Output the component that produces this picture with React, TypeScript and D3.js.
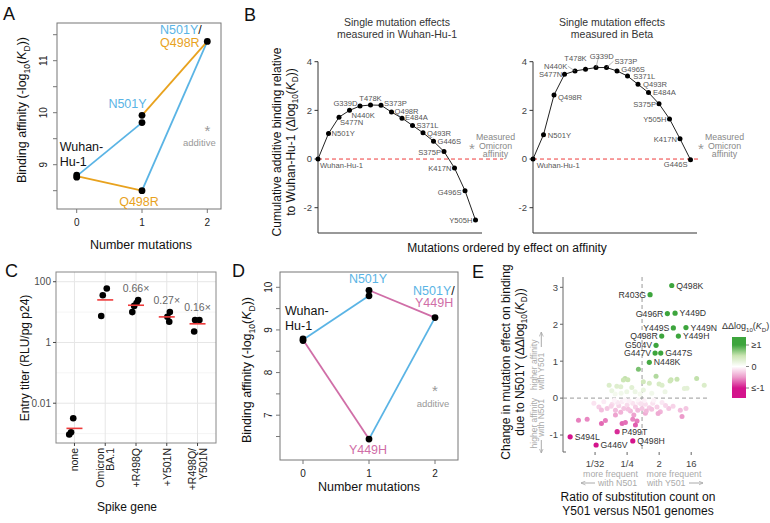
import React from "react";
import * as d3 from "d3";

const FONT = "'Liberation Sans', Arial, Helvetica, sans-serif";
const BLUE = "#5AB4E5";
const ORANGE = "#E8A21E";
const PINK = "#D06EA7";
const RED = "#EE3A3A";

/* ---------- Panel A ---------- */
const aWuhanHu1 = [8.8, 8.76];
const aN501Y = [9.95, 9.81];
const aQ498R = [8.5];
const aN501YQ498R = [11.37];
const aXTicks = [0, 1, 2];
const aYTicks = [8.5, 9, 9.5, 10, 10.5, 11, 11.5];
const aYLabels = [9, 10, 11];

/* ---------- Panel D ---------- */
const dWuhanHu1 = [8.79, 8.75];
const dN501Y = [9.93, 9.8];
const dY449H = [6.44];
const dN501YY449H = [9.29];
const dYTicks = [6.5, 7, 7.5, 8, 8.5, 9, 9.5, 10];
const dYLabels = [7, 8, 9, 10];

/* ---------- Panel B ---------- */
const bWuhanOrder = ["Wuhan-Hu-1", "N501Y", "S477N", "N440K", "G339D", "T478K", "S373P", "Q498R", "E484A", "S371L", "Q493R", "G446S", "S375P", "K417N", "G496S", "Y505H"];
const bWuhanCum = [0, 1.05, 1.72, 2.0, 2.18, 2.22, 2.21, 1.93, 1.68, 1.38, 1.08, 0.73, 0.31, -0.37, -1.3, -2.51];
const bBetaOrder = ["Wuhan-Hu-1", "N501Y", "Q498R", "S477N", "N440K", "T478K", "G339D", "S373P", "G496S", "S371L", "Q493R", "E484A", "S375P", "Y505H", "K417N", "G446S"];
const bBetaCum = [0, 1.0, 2.63, 3.48, 3.62, 3.69, 3.76, 3.76, 3.62, 3.41, 3.07, 2.73, 2.27, 1.65, 0.83, -0.03];
const bMeasuredOmicron = 0.37;
const bYTicks = [-2, 0, 2, 4];

/* ---------- Panel C ---------- */
const cGenes = ["none", "Omicron BA.1", "+R498Q", "+Y501N", "+R498Q/Y501N"];
const cGeneLines = [["none"], ["Omicron", "BA.1"], ["+R498Q"], ["+Y501N"], ["+R498Q/", "Y501N"]];
const cTiters = [
  [0.0032, 0.0011, 0.00093],
  [60, 36, 7.4],
  [25, 20, 16, 10],
  [10, 7, 4.8],
  [5.5, 5.5, 2.3],
];
const cJitter = [
  [-0.04, -0.11, -0.17],
  [0.05, -0.08, -0.13],
  [0.07, 0.02, -0.06, -0.12],
  [0.1, 0.02, 0.08],
  [-0.08, 0.06, -0.11],
];
const cFoldLabels = ["", "", "0.66×", "0.27×", "0.16×"];
const cYTicks = [0.01, 1, 100];
const cYTickLabels = ["0.01", "1", "100"];
const cYMinor = [0.001, 0.1, 10];

/* ---------- Panel E ---------- */
const eLabeled = ["Q498K", "R403G", "G496R", "Y449D", "Y449S", "Y449N", "Q498R", "Y449H", "G504V", "G447V", "G447S", "N448K", "S494L", "G446V", "Q498H", "P499T"];
const eLabeledLog2Ratio = [2.18, 0.15, 1.77, 2.49, 2.33, 3.51, 1.24, 2.8, 0.71, 0.62, 1.15, 0.08, -7.33, -4.9, -1.47, -2.93];
const eLabeledDDlogKd = [3.05, 2.8, 2.29, 2.3, 1.9, 1.91, 1.68, 1.68, 1.43, 1.22, 1.22, 0.97, -1.05, -1.27, -1.16, -0.91];
const eLabelSide = ["r", "l", "l", "r", "l", "r", "l", "r", "l", "l", "r", "r", "r", "r", "r", "r"];
const eOtherLog2Ratio = [
  -0.94, 0.71, -2.19, -2.35, -1.93, 2.11, 2.02, 4.51, 5.22, -0.48, 0.08, -3.68, -2.96, -2.59, -1.56, 0.99, 3.36, -2.03, -3.43, -1.25, -0.48, 0.31, 1.55, -2.56, -0.79, -3.12, 2.67, 1.27, 3.61,
  -5.11, -4.64, -4.18, -3.87, -3.4, -3.09, -2.78, -2.47, -2.31, -2.0, -1.69, -1.47, -1.22, -0.91, -0.6, -0.29, 0.08, 0.4, 0.8, 1.27, 1.9, 1.11, 2.98, 3.51, 3.14, -0.29, -1.37, -3.09, -5.74, -4.4, -4.03, -2.47, -2.16, -1.47, -1.07, -1.22, -6.55,
  -2.9, -2.2, -1.8, -1.0, -0.4, 0.5, -3.5, -1.9, -1.0, -0.2, 0.3, -2.6, 1.6, -4.4, 0.9, -0.7, -3.2, 2.3,
];
const eOtherDDlogKd = [
  0.78, 0.59, 0.53, 0.49, 0.5, 0.5, 0.46, 0.53, 0.35, 0.44, 0.4, 0.35, 0.32, 0.31, 0.29, 0.38, 0.26, 0.17, 0.2, 0.17, 0.22, 0.13, 0.17, 0.13, 0.11, 0.11, 0.51, 0.35, 0.27,
  -0.14, -0.24, -0.1, -0.28, -0.17, -0.33, -0.21, -0.1, -0.28, -0.19, -0.35, -0.14, -0.24, -0.12, -0.28, -0.17, -0.26, -0.14, -0.24, -0.12, -0.28, -0.37, -0.33, -0.28, -0.5, -0.41, -0.46, -0.46, -0.57, -0.69, -0.61, -0.69, -0.66, -0.57, -0.62, -0.73, -0.6,
  -0.12, -0.05, -0.08, -0.05, -0.07, -0.06, -0.22, -0.3, -0.33, -0.35, -0.3, -0.38, -0.2, -0.32, -0.42, -0.15, -0.06, -0.22,
];
const eRatioOverall = -0.6;
const eXTicks = [-5, -2, 1, 4];
const eXTickLabels = ["1/32", "1/4", "2", "16"];
const eYTicks = [-1, 0, 1, 2, 3];
const eLegendValues = [1, 0, -1];
const eLegendLabels = ["≥1", "0", "≤-1"];

/* ---------- helpers ---------- */
function LogKd({ fs, prefix, close }: { fs: number; prefix: string; close: string }) {
  const s = fs * 0.68;
  const sh = fs * 0.28;
  return (
    <>
      {prefix}
      <tspan fontSize={s} dy={sh}>10</tspan>
      <tspan dy={-sh}>(</tspan>
      <tspan fontStyle="italic">K</tspan>
      <tspan fontSize={s} dy={sh}>D</tspan>
      <tspan dy={-sh}>{close}</tspan>
    </>
  );
}

function Star({ x, y }: { x: number; y: number }) {
  return (
    <text x={x} y={y + 8} textAnchor="middle" fontSize={15} fill="#999">*</text>
  );
}

/* ---------- Panel A ---------- */
function PanelA() {
  const L = 57, R = 221, T = 23, B = 209;
  const x = d3.scaleLinear().domain([0, 2]).range([76.7, 207.3]);
  const y = d3.scaleLinear().domain([9, 11]).range([164.7, 60.7]);
  const wu = d3.mean(aWuhanHu1) as number;
  const line = d3.line<number[]>().x((d) => x(d[0])).y((d) => y(d[1]));
  const blue = [[[0, wu], [1, aN501Y[1]]], [[1, aQ498R[0]], [2, aN501YQ498R[0]]]];
  const orange = [[[0, wu], [1, aQ498R[0]]], [[1, aN501Y[0]], [2, aN501YQ498R[0]]]];
  const pts = [
    ...aWuhanHu1.map((v) => [0, v]),
    ...aN501Y.map((v) => [1, v]),
    ...aQ498R.map((v) => [1, v]),
    ...aN501YQ498R.map((v) => [2, v]),
  ];
  return (
    <g>
      <rect x={L} y={T} width={R - L} height={B - T} fill="none" stroke="#777" />
      {aYTicks.map((t) => (
        <line key={t} x1={L - 4} x2={L} y1={y(t)} y2={y(t)} stroke="#777" />
      ))}
      {aYLabels.map((t) => (
        <text key={t} transform={`translate(${L - 10},${y(t)}) rotate(-90)`} textAnchor="middle" fontSize={10} fill="#222">{t}</text>
      ))}
      {aXTicks.map((t) => (
        <g key={t}>
          <line x1={x(t)} x2={x(t)} y1={B} y2={B + 4} stroke="#777" />
          <text x={x(t)} y={B + 16.5} textAnchor="middle" fontSize={10} fill="#222">{t}</text>
        </g>
      ))}
      <text transform={`translate(26,110) rotate(-90)`} textAnchor="middle" fontSize={12.5} fill="#111">
        <LogKd fs={12.5} prefix="Binding affinity (-log" close="))" />
      </text>
      <text x={141} y={249} textAnchor="middle" fontSize={12.5} fill="#111">Number mutations</text>
      {blue.map((s, i) => (
        <path key={"b" + i} d={line(s) as string} fill="none" stroke={BLUE} strokeWidth={1.8} />
      ))}
      {orange.map((s, i) => (
        <path key={"o" + i} d={line(s) as string} fill="none" stroke={ORANGE} strokeWidth={1.8} />
      ))}
      {pts.map((p, i) => (
        <circle key={i} cx={x(p[0])} cy={y(p[1])} r={3.4} fill="#000" />
      ))}
      <text x={x(1) - 14.5} y={y(aN501Y[0]) - 7} textAnchor="middle" fontSize={12.5} fill={BLUE}>N501Y</text>
      <text x={x(0) - 17} y={y(wu) - 25} fontSize={12.5} fill="#111">Wuhan-</text>
      <text x={x(0) - 17} y={y(wu) - 10} fontSize={12.5} fill="#111">Hu-1</text>
      <text x={x(1) - 3} y={y(aQ498R[0]) + 15} textAnchor="middle" fontSize={12.5} fill={ORANGE}>Q498R</text>
      <text x={x(2) - 47.3} y={y(aN501YQ498R[0]) - 7} fontSize={12.5} fill={BLUE}>
        N501Y<tspan fill="#111">/</tspan>
      </text>
      <text x={x(2) - 47.3} y={y(aN501YQ498R[0]) + 5.5} fontSize={12.5} fill={ORANGE}>Q498R</text>
      <Star x={x(2)} y={128} />
      <text x={x(2) - 8} y={146} textAnchor="middle" fontSize={9.5} fill="#999">additive</text>
    </g>
  );
}

/* ---------- Panel D ---------- */
function PanelD() {
  const L = 280, R = 458, T = 272, B = 460;
  const x = d3.scaleLinear().domain([0, 2]).range([303, 435]);
  const y = d3.scaleLinear().domain([7, 10]).range([415.2, 287.3]);
  const wu = d3.mean(dWuhanHu1) as number;
  const line = d3.line<number[]>().x((d) => x(d[0])).y((d) => y(d[1]));
  const blue = [[[0, wu], [1, dN501Y[1]]], [[1, dY449H[0]], [2, dN501YY449H[0]]]];
  const pink = [[[0, wu], [1, dY449H[0]]], [[1, dN501Y[0]], [2, dN501YY449H[0]]]];
  const pts = [
    ...dWuhanHu1.map((v) => [0, v]),
    ...dN501Y.map((v) => [1, v]),
    ...dY449H.map((v) => [1, v]),
    ...dN501YY449H.map((v) => [2, v]),
  ];
  return (
    <g>
      <rect x={L} y={T} width={R - L} height={B - T} fill="none" stroke="#777" />
      {dYTicks.map((t) => (
        <line key={t} x1={L - 4} x2={L} y1={y(t)} y2={y(t)} stroke="#777" />
      ))}
      {dYLabels.map((t) => (
        <text key={t} transform={`translate(${L - 8.5},${y(t)}) rotate(-90)`} textAnchor="middle" fontSize={10} fill="#222">{t}</text>
      ))}
      {aXTicks.map((t) => (
        <g key={t}>
          <line x1={x(t)} x2={x(t)} y1={B} y2={B + 4} stroke="#777" />
          <text x={x(t)} y={B + 17} textAnchor="middle" fontSize={10} fill="#222">{t}</text>
        </g>
      ))}
      <text transform={`translate(251,370) rotate(-90)`} textAnchor="middle" fontSize={12.5} fill="#111">
        <LogKd fs={12.5} prefix="Binding affinity (-log" close="))" />
      </text>
      <text x={369} y={491} textAnchor="middle" fontSize={12.5} fill="#111">Number mutations</text>
      {blue.map((s, i) => (
        <path key={"b" + i} d={line(s) as string} fill="none" stroke={BLUE} strokeWidth={1.8} />
      ))}
      {pink.map((s, i) => (
        <path key={"p" + i} d={line(s) as string} fill="none" stroke={PINK} strokeWidth={1.8} />
      ))}
      {pts.map((p, i) => (
        <circle key={i} cx={x(p[0])} cy={y(p[1])} r={3.4} fill="#000" />
      ))}
      <text x={x(1) - 1} y={y(dN501Y[0]) - 7.3} textAnchor="middle" fontSize={12.5} fill={BLUE}>N501Y</text>
      <text x={x(0) - 18} y={y(wu) - 25} fontSize={12.5} fill="#111">Wuhan-</text>
      <text x={x(0) - 18} y={y(wu) - 10} fontSize={12.5} fill="#111">Hu-1</text>
      <text x={x(1) - 1} y={y(dY449H[0]) + 15} textAnchor="middle" fontSize={12.5} fill={PINK}>Y449H</text>
      <text x={x(2) - 22} y={y(dN501YY449H[0]) - 23} fontSize={12.5} fill={BLUE}>
        N501Y<tspan fill="#111">/</tspan>
      </text>
      <text x={x(2) - 20} y={y(dN501YY449H[0]) - 10.5} fontSize={12.5} fill={PINK}>Y449H</text>
      <Star x={x(2)} y={388} />
      <text x={x(2) - 2} y={407} textAnchor="middle" fontSize={9.5} fill="#999">additive</text>
    </g>
  );
}

/* ---------- Panel B ---------- */
const bSpecWuhan: [string, number, number][] = [
  ["start", 2, 9.2], ["start", 3, 2.8], ["start", 1, 7.4], ["start", 2, 7.5], ["end", -2.5, 0.5], ["middle", 0, -4],
  ["start", 3, 1], ["start", 3, 1.5], ["start", 3, 1.5], ["start", 4, 3], ["start", 4, 3], ["start", 4, 3],
  ["end", -3, 4], ["end", -3, 3], ["end", -3.5, 4], ["end", -3, 3],
];
const bSpecBeta: [string, number, number][] = [
  ["start", 3.7, 9.2], ["start", 4.3, 2.8], ["start", 4, 5.4], ["end", -2.3, 2.8], ["end", -7.7, -2.2], ["middle", -10, -7.9],
  ["middle", 5.7, -8.8], ["start", 8, -3.8], ["start", 4.3, 1.1], ["start", 5.7, 3.4], ["start", 5, 2.8], ["start", 4.4, 2.8],
  ["end", -3, 3], ["end", -3, 3], ["end", -3, 3], ["end", -3, 7.7],
];
const bLeaders = [4, 6, 7];

function BSub({ left, names, cum, spec, title2, starOff, dashEnd, leaders, axisEnd }: any) {
  const x = d3.scaleLinear().domain([0, 15]).range([left, left + 157.5]);
  const y = d3.scaleLinear().domain([-2, 4]).range([207.7, 61.7]);
  const line = d3.line<number>().x((_, i) => x(i)).y((d) => y(d));
  const starX = x(15) + starOff;
  const cx = left + 79;
  return (
    <g>
      <text x={cx} y={25.5} textAnchor="middle" fontSize={10.5} fill="#333">Single mutation effects</text>
      <text x={cx} y={37.5} textAnchor="middle" fontSize={10.5} fill="#333">{title2}</text>
      <line x1={left} x2={left} y1={y(4)} y2={233} stroke="#333" />
      <line x1={left} x2={left + axisEnd} y1={233} y2={233} stroke="#333" />
      {bYTicks.map((t) => (
        <g key={t}>
          <line x1={left - 3.5} x2={left} y1={y(t)} y2={y(t)} stroke="#333" />
          <text x={left - 6} y={y(t) + 3.3} textAnchor="end" fontSize={9.5} fill="#444">{t}</text>
        </g>
      ))}
      <line x1={left} x2={left + dashEnd} y1={y(0)} y2={y(0)} stroke={RED} strokeWidth={1} strokeDasharray="4,3" />
      <path d={line(cum) as string} fill="none" stroke="#222" strokeWidth={1} />
      {cum.map((v: number, i: number) => (
        <circle key={i} cx={x(i)} cy={y(v)} r={2.5} fill="#000" />
      ))}
      {leaders.map((i: number) => {
        const s = spec[i];
        const tx = x(i) + s[1];
        const ty = y(cum[i]) + s[2];
        return <line key={"l" + i} x1={x(i)} y1={y(cum[i])} x2={s[0] === "end" ? tx + 0.5 : s[0] === "start" ? tx - 1 : tx - 3} y2={ty - 2.5} stroke="#888" strokeWidth={0.6} />;
      })}
      {names.map((n: string, i: number) => {
        const s = spec[i];
        return (
          <text key={n} x={x(i) + s[1]} y={y(cum[i]) + s[2]} textAnchor={s[0]} fontSize={7.6} fill="#555">{n}</text>
        );
      })}
      <Star x={starX} y={y(bMeasuredOmicron) - 4} />
      {["Measured", "Omicron", "affinity"].map((t, i) => (
        <text key={t} x={starX + 23.5} y={140 + i * 8.5} textAnchor="middle" fontSize={8.8} fill="#888">{t}</text>
      ))}
    </g>
  );
}

function PanelB() {
  return (
    <g>
      <BSub left={318} names={bWuhanOrder} cum={bWuhanCum} spec={bSpecWuhan} title2="measured in Wuhan-Hu-1" starOff={-3.5} dashEnd={185} leaders={[]} axisEnd={164} />
      <BSub left={533} names={bBetaOrder} cum={bBetaCum} spec={bSpecBeta} title2="measured in Beta" starOff={10.5} dashEnd={165} leaders={bLeaders} axisEnd={164} />
      <text transform="translate(281,142) rotate(-90)" textAnchor="middle" fontSize={12} fill="#111">Cumulative additive binding relative</text>
      <text transform="translate(294.5,142) rotate(-90)" textAnchor="middle" fontSize={12} fill="#111">
        <LogKd fs={12} prefix="to Wuhan-Hu-1 (Δlog" close="))" />
      </text>
      <text x={507} y={252} textAnchor="middle" fontSize={12} fill="#111">Mutations ordered by effect on affinity</text>
    </g>
  );
}

/* ---------- Panel C ---------- */
function PanelC() {
  const L = 56, R = 216, T = 272, B = 443;
  const x = d3.scalePoint<string>().domain(cGenes).range([L, R]).padding(0.6);
  const y = d3.scaleLog().domain([0.00049, 209]).range([B, T]);
  const step = x.step();
  return (
    <g>
      <rect x={L} y={T} width={R - L} height={B - T} fill="#fff" />
      {cYMinor.map((t) => (
        <line key={"m" + t} x1={L} x2={R} y1={y(t)} y2={y(t)} stroke="#f2f2f2" strokeWidth={0.8} />
      ))}
      {cYTicks.map((t) => (
        <line key={"M" + t} x1={L} x2={R} y1={y(t)} y2={y(t)} stroke="#e6e6e6" strokeWidth={1} />
      ))}
      {cGenes.map((g) => (
        <line key={g} x1={x(g)} x2={x(g)} y1={T} y2={B} stroke="#e6e6e6" strokeWidth={1} />
      ))}
      <rect x={L} y={T} width={R - L} height={B - T} fill="none" stroke="#888" />
      {cYTicks.map((t, i) => (
        <g key={t}>
          <line x1={L - 3} x2={L} y1={y(t)} y2={y(t)} stroke="#444" />
          <text x={L - 5} y={y(t) + 3.5} textAnchor="end" fontSize={10} fill="#4d4d4d">{cYTickLabels[i]}</text>
        </g>
      ))}
      {cGenes.map((g, gi) => {
        const cx = x(g) as number;
        const lines = cGeneLines[gi];
        return (
          <g key={g}>
            <line x1={cx} x2={cx} y1={B} y2={B + 3} stroke="#444" />
            {lines.map((ln, li) => {
              const off = lines.length === 1 ? 0 : (li === 0 ? -5.3 : 5.3);
              return (
                <text key={ln} transform={`translate(${cx + off + 3.8},${B + 5}) rotate(-90)`} textAnchor="end" fontSize={10.5} fill="#222">{ln}</text>
              );
            })}
          </g>
        );
      })}
      {cTiters.map((vals, gi) => {
        const cx = x(cGenes[gi]) as number;
        return vals.map((v, i) => (
          <circle key={gi + "-" + i} cx={cx + cJitter[gi][i] * step} cy={y(v)} r={3.3} fill="#000" />
        ));
      })}
      {cTiters.map((vals, gi) => {
        const cx = x(cGenes[gi]) as number;
        const gm = Math.pow(10, d3.mean(vals.map((v) => Math.log10(v))) as number);
        return <line key={"mean" + gi} x1={cx - 8} x2={cx + 8} y1={y(gm)} y2={y(gm)} stroke={RED} strokeWidth={1.6} />;
      })}
      {cTiters.map((vals, gi) =>
        cFoldLabels[gi] ? (
          <text key={"f" + gi} x={x(cGenes[gi]) as number} y={y(d3.max(vals) as number) - 8.5} textAnchor="middle" fontSize={10.5} fill="#666">{cFoldLabels[gi]}</text>
        ) : null
      )}
      <text transform="translate(29,358) rotate(-90)" textAnchor="middle" fontSize={12} fill="#111">Entry titer (RLU/pg p24)</text>
      <text x={127} y={511} textAnchor="middle" fontSize={12} fill="#111">Spike gene</text>
    </g>
  );
}

/* ---------- Panel E ---------- */
function PanelE() {
  const L = 563, B = 452, T = 277, R = 710;
  const x = d3.scaleLinear().domain([-8, 5.76]).range([L, R]);
  const y = d3.scaleLinear().domain([-1.46, 3.28]).range([B, T]);
  const color = d3.scaleLinear<string>().domain([-1, -0.5, 0, 0.5, 1]).range(["#D4148C", "#EC9BCB", "#FFFFFF", "#CBE5B3", "#3DA53D"]).clamp(true);
  const leg = d3.scaleLinear().domain([1, -1]).range([345, 388]);
  const legTop = 337, legBot = 398;
  const stopVals = [leg.invert(legTop), 1, 0.5, 0, -0.5, -1, leg.invert(legBot)];
  const gray = "#aaa";
  return (
    <g>
      <defs>
        <linearGradient id="eGrad" x1="0" y1="0" x2="0" y2="1">
          {stopVals.map((v, i) => (
            <stop key={i} offset={(leg(v) - legTop) / (legBot - legTop)} stopColor={color(v)} />
          ))}
        </linearGradient>
        <marker id="arrH" viewBox="0 0 10 10" refX="9" refY="5" markerWidth="5" markerHeight="5" orient="auto">
          <path d="M0,1 L9,5 L0,9" fill="none" stroke={gray} strokeWidth={1.5} />
        </marker>
      </defs>
      <line x1={L} x2={L} y1={T} y2={B} stroke="#666" />
      <line x1={L} x2={L + 3} y1={B} y2={B} stroke="#666" />
      {eYTicks.map((t) => (
        <g key={t}>
          <line x1={L - 3} x2={L} y1={y(t)} y2={y(t)} stroke="#666" />
          <text x={L - 5} y={y(t) + 3.4} textAnchor="end" fontSize={9.5} fill="#444">{t}</text>
        </g>
      ))}
      {eXTicks.map((t, i) => (
        <g key={t}>
          <line x1={x(t)} x2={x(t)} y1={B} y2={B + 3} stroke="#666" />
          <text x={x(t)} y={B + 15} textAnchor="middle" fontSize={9.5} fill="#444">{eXTickLabels[i]}</text>
        </g>
      ))}
      <line x1={L} x2={R} y1={y(0)} y2={y(0)} stroke="#999" strokeDasharray="4,3" />
      <line x1={x(eRatioOverall)} x2={x(eRatioOverall)} y1={T} y2={B} stroke="#999" strokeDasharray="4,3" />
      {eOtherLog2Ratio.map((v, i) => (
        <circle key={"o" + i} cx={x(v)} cy={y(eOtherDDlogKd[i])} r={2.5} fill={color(eOtherDDlogKd[i])} />
      ))}
      {eLabeled.map((n, i) => {
        const cx = x(eLabeledLog2Ratio[i]);
        const cy = y(eLabeledDDlogKd[i]);
        const right = eLabelSide[i] === "r";
        return (
          <g key={n}>
            <circle cx={cx} cy={cy} r={2.6} fill={color(eLabeledDDlogKd[i])} />
            <text x={cx + (right ? 4.5 : -4)} y={cy + 3.1} textAnchor={right ? "start" : "end"} fontSize={8.7} fill="#333">{n}</text>
          </g>
        );
      })}
      {/* in-plot axis annotations */}
      <text transform="translate(536.5,390) rotate(-90)" textAnchor="start" fontSize={8.5} fill={gray}>higher affinity</text>
      <text transform="translate(544.3,390) rotate(-90)" textAnchor="start" fontSize={8.5} fill={gray}>with Y501</text>
      <line x1={541.3} x2={541.3} y1={347} y2={332} stroke={gray} strokeWidth={1} markerEnd="url(#arrH)" />
      <text transform="translate(536.5,398) rotate(-90)" textAnchor="end" fontSize={8.5} fill={gray}>higher affinity</text>
      <text transform="translate(544.3,399) rotate(-90)" textAnchor="end" fontSize={8.5} fill={gray}>with N501</text>
      <line x1={541.3} x2={541.3} y1={440} y2={453} stroke={gray} strokeWidth={1} markerEnd="url(#arrH)" />
      <text x={610.5} y={476.5} textAnchor="middle" fontSize={8.8} fill={gray}>more frequent</text>
      <text x={598} y={486} textAnchor="start" fontSize={8.8} fill={gray}>with N501</text>
      <line x1={595} x2={581} y1={483} y2={483} stroke={gray} strokeWidth={1} markerEnd="url(#arrH)" />
      <text x={674} y={476.5} textAnchor="middle" fontSize={8.8} fill={gray}>more frequent</text>
      <text x={647} y={486} textAnchor="start" fontSize={8.8} fill={gray}>with Y501</text>
      <line x1={689} x2={703} y1={483} y2={483} stroke={gray} strokeWidth={1} markerEnd="url(#arrH)" />
      {/* titles */}
      <text transform="translate(509.5,362) rotate(-90)" textAnchor="middle" fontSize={12} fill="#111">Change in mutation effect on binding</text>
      <text transform="translate(523.5,362) rotate(-90)" textAnchor="middle" fontSize={12} fill="#111">
        <LogKd fs={12} prefix="due to N501Y (ΔΔlog" close="))" />
      </text>
      <text x={638} y={501} textAnchor="middle" fontSize={12} fill="#111">Ratio of substitution count on</text>
      <text x={638} y={515} textAnchor="middle" fontSize={12} fill="#111">Y501 versus N501 genomes</text>
      {/* legend */}
      <text x={722} y={329} fontSize={9} fill="#333">
        <LogKd fs={9} prefix="ΔΔlog" close=")" />
      </text>
      <rect x={732} y={legTop} width={14} height={legBot - legTop} fill="url(#eGrad)" />
      {eLegendValues.map((v, i) => (
        <g key={v}>
          <line x1={746} x2={749} y1={leg(v)} y2={leg(v)} stroke="#666" strokeWidth={0.8} />
          <text x={751.5} y={leg(v) + 3.2} fontSize={9} fill="#333">{eLegendLabels[i]}</text>
        </g>
      ))}
    </g>
  );
}

export default function App() {
  return (
    <svg
      width={770}
      height={523}
      viewBox="0 0 770 523"
      style={{ position: "absolute", left: 0, top: 0, display: "block", background: "#fff" }}
      fontFamily={FONT}
    >
      <rect width={770} height={523} fill="#fff" />
      <PanelA />
      <PanelB />
      <PanelC />
      <PanelD />
      <PanelE />
      <text x={3} y={20} fontSize={18} fill="#111">A</text>
      <text x={244} y={21} fontSize={18} fill="#111">B</text>
      <text x={5} y={277} fontSize={18} fill="#111">C</text>
      <text x={232} y={277} fontSize={18} fill="#111">D</text>
      <text x={472} y={278} fontSize={18} fill="#111">E</text>
    </svg>
  );
}
